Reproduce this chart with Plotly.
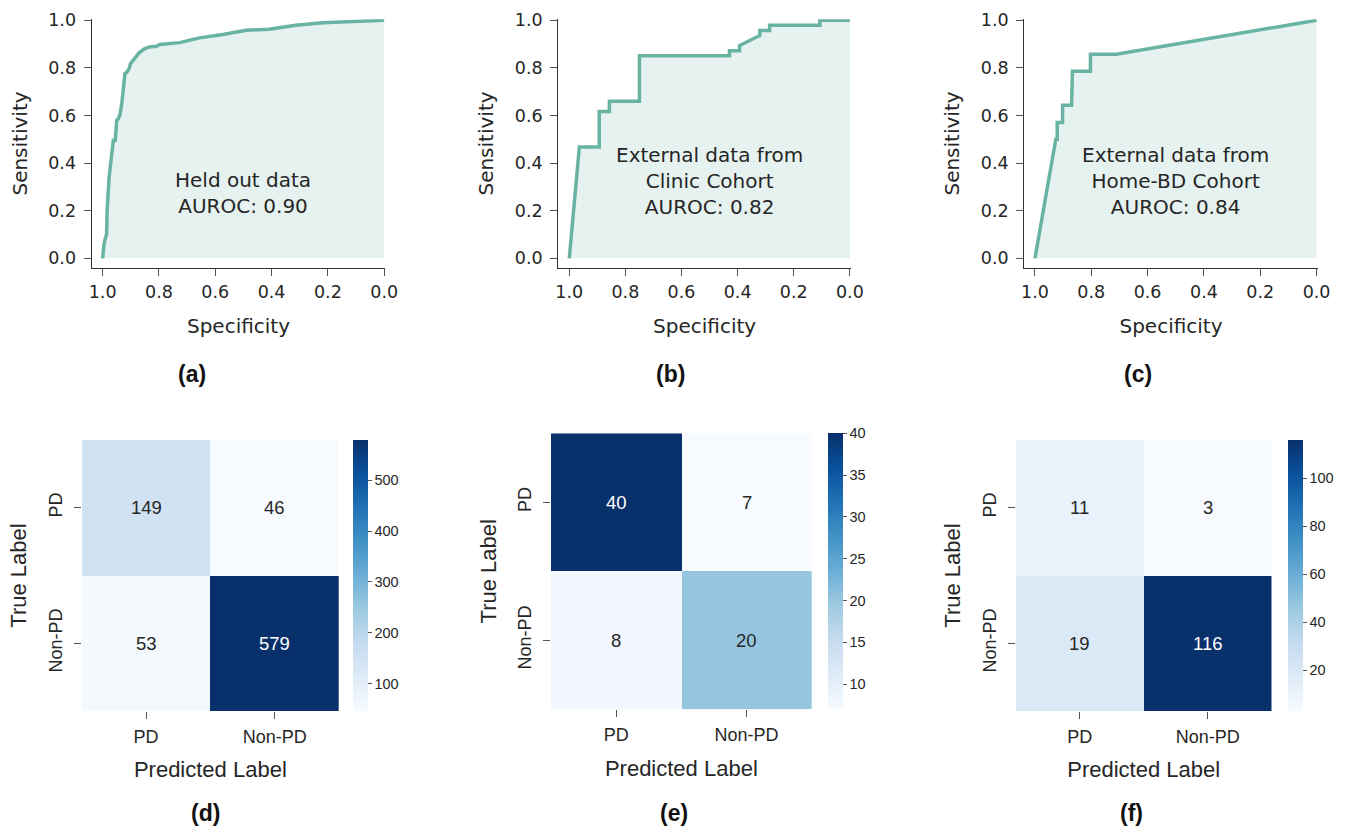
import plotly.graph_objects as go
import plotly.colors as pc

W, H = 1345, 834

# ---------------- ROC data ----------------
spec_a = [1.0, 0.995, 0.986, 0.984, 0.977, 0.962, 0.955, 0.950, 0.945, 0.939, 0.932, 0.927,
          0.921, 0.915, 0.906, 0.901, 0.886, 0.870, 0.850, 0.833, 0.809, 0.797, 0.726, 0.656,
          0.573, 0.490, 0.408, 0.314, 0.219, 0.101, 0.0]
sens_a = [0.0, 0.063, 0.102, 0.203, 0.342, 0.496, 0.496, 0.580, 0.585, 0.601, 0.650, 0.699,
          0.776, 0.780, 0.797, 0.818, 0.839, 0.864, 0.881, 0.888, 0.891, 0.898, 0.906, 0.926,
          0.940, 0.958, 0.962, 0.979, 0.989, 0.994, 1.0]

spec_b = [1.0, 0.964, 0.893, 0.893, 0.857, 0.857, 0.750, 0.750, 0.429, 0.429, 0.393, 0.393,
          0.321, 0.321, 0.286, 0.286, 0.107, 0.107, 0.0]
sens_b = [0.0, 0.468, 0.468, 0.617, 0.617, 0.660, 0.660, 0.851, 0.851, 0.872, 0.872, 0.894,
          0.936, 0.957, 0.957, 0.979, 0.979, 1.0, 1.0]

spec_c = [1.0, 0.926, 0.921, 0.921, 0.902, 0.902, 0.870, 0.870, 0.867, 0.803, 0.803, 0.711, 0.0]
sens_c = [0.0, 0.500, 0.500, 0.571, 0.571, 0.643, 0.643, 0.714, 0.786, 0.786, 0.857, 0.857, 1.0]

roc_texts = ["Held out data<br>AUROC: 0.90",
             "External data from<br>Clinic Cohort<br>AUROC: 0.82",
             "External data from<br>Home-BD Cohort<br>AUROC: 0.84"]
roc_text_y = [0.275, 0.325, 0.325]

# ---------------- Confusion matrices ----------------
labels = ["PD", "Non-PD"]
cm_d = [[149, 46], [53, 579]]
cm_e = [[40, 7], [8, 20]]
cm_f = [[11, 3], [19, 116]]
cb_ticks_d = [100, 200, 300, 400, 500]
cb_ticks_e = [10, 15, 20, 25, 30, 35, 40]
cb_ticks_f = [20, 40, 60, 80, 100]

captions_top = ["(a)", "(b)", "(c)"]
captions_bot = ["(d)", "(e)", "(f)"]

LINE = "#69b3a2"
FILL = "rgba(105,179,162,0.17)"
TXT = "#262626"
ROC_FONT = "DejaVu Sans"
HM_FONT = "Liberation Sans, Arial"

fig = go.Figure()

def px_x(v):
    return v / W

def px_y(v):
    return 1 - v / H

# ROC panel pixel geometry: (left spine, x of 1.0, x of 0.0)
roc_geo = [(91.7, 102.7, 385.3), (558.3, 569.3, 851.0), (1024.3, 1035.0, 1317.7)]
roc_top, roc_bottom = 19.3, 267.7
roc_y0, roc_y1 = 258.3, 20.0  # pixel of sens 0 and 1

rocs = [(spec_a, sens_a), (spec_b, sens_b), (spec_c, sens_c)]
layout = {}
for i, ((spec, sens), (lx, x1, x0)) in enumerate(zip(rocs, roc_geo)):
    n = i + 1
    xa = "x" if n == 1 else f"x{n}"
    ya = "y" if n == 1 else f"y{n}"
    fig.add_trace(go.Scatter(x=spec, y=sens, mode="lines", xaxis=xa, yaxis=ya,
                             line=dict(color=LINE, width=3.5), fill="tozeroy",
                             fillcolor=FILL, showlegend=False, hoverinfo="skip"))
    xr_left = 1 + (x1 - lx) / (x0 - x1)
    yr_bottom = -(roc_bottom - roc_y0) / (roc_y0 - roc_y1)
    common = dict(showgrid=False, zeroline=False, showline=True, linecolor="#333333",
                  linewidth=1.25, ticks="outside", ticklen=7, tickcolor="#555555",
                  tickwidth=1.25, automargin=False,
                  tickfont=dict(family=ROC_FONT, size=17.5, color=TXT),
                  title_font=dict(family=ROC_FONT, size=20, color=TXT))
    layout["xaxis" if n == 1 else f"xaxis{n}"] = dict(
        common, domain=[px_x(lx), px_x(x0)], range=[xr_left, -0.004],
        anchor=ya, tickvals=[1.0, 0.8, 0.6, 0.4, 0.2, 0.0], tickformat=".1f",
        ticklabelstandoff=1, title=dict(text="Specificity", standoff=18))
    layout["yaxis" if n == 1 else f"yaxis{n}"] = dict(
        common, domain=[px_y(roc_bottom), px_y(roc_top)], range=[yr_bottom, 1.004],
        anchor=xa, tickvals=[0, 0.2, 0.4, 0.6, 0.8, 1.0], tickformat=".1f",
        ticklabelstandoff=4, title=dict(text="Sensitivity", standoff=15))

# heatmaps: (left, right, top, bottom, cb_x)
hm_geo = [(81.7, 339.0, 440.0, 711.0, 353.3), (551.0, 811.7, 433.3, 709.3, 828.3),
          (1015.7, 1271.7, 440.0, 711.0, 1288.3)]
cms = [cm_d, cm_e, cm_f]
cbt = [cb_ticks_d, cb_ticks_e, cb_ticks_f]
blues = pc.sequential.Blues
annotations = []
for j, (cm, (l, r, t, b, cbx), ticks) in enumerate(zip(cms, hm_geo, cbt)):
    n = j + 4
    xa, ya = f"x{n}", f"y{n}"
    zmin = min(min(row) for row in cm)
    zmax = max(max(row) for row in cm)
    fig.add_trace(go.Heatmap(
        z=cm, x=labels, y=labels, xaxis=xa, yaxis=ya, colorscale=blues,
        zmin=zmin, zmax=zmax, hoverinfo="skip",
        colorbar=dict(x=px_x(cbx), xanchor="left", xpad=0, ypad=0, thickness=15,
                      lenmode="pixels", len=b - t, y=px_y(t), yanchor="top",
                      outlinewidth=0, ticks="outside", ticklen=4, tickcolor="#555555",
                      tickvals=ticks,
                      tickfont=dict(family=HM_FONT, size=14.5, color=TXT))))
    hcommon = dict(showgrid=False, zeroline=False, showline=False, ticks="outside",
                   ticklen=7, tickcolor="#555555", tickwidth=1.25, automargin=False,
                   tickfont=dict(family=HM_FONT, size=18, color=TXT),
                   title_font=dict(family=HM_FONT, size=22, color=TXT))
    layout[f"xaxis{n}"] = dict(hcommon, domain=[px_x(l), px_x(r)], anchor=ya,
                               ticklabelstandoff=2,
                               title=dict(text="Predicted Label", standoff=16))
    layout[f"yaxis{n}"] = dict(hcommon, domain=[px_y(b), px_y(t)], anchor=xa,
                               autorange="reversed", tickangle=-90,
                               ticklabelstandoff=5,
                               title=dict(text="True Label", standoff=12))
    for ri, row in enumerate(cm):
        for ci, v in enumerate(row):
            frac = (v - zmin) / (zmax - zmin)
            col = "white" if frac > 0.6 else TXT
            annotations.append(dict(x=labels[ci], y=labels[ri], xref=xa, yref=ya,
                                    text=str(v), showarrow=False,
                                    font=dict(family=HM_FONT, size=18.5, color=col)))

# ROC inner texts
for i, (txt, ty) in enumerate(zip(roc_texts, roc_text_y)):
    n = i + 1
    xa = "x" if n == 1 else f"x{n}"
    ya = "y" if n == 1 else f"y{n}"
    annotations.append(dict(x=0.5, y=ty, xref=xa, yref=ya, text=txt, showarrow=False,
                            xanchor="center", yanchor="middle",
                            font=dict(family=ROC_FONT, size=20, color=TXT)))

cap_top_x = [192, 670, 1138]
cap_bot_x = [205, 674, 1131]
for c, cx in zip(captions_top, cap_top_x):
    annotations.append(dict(x=px_x(cx), y=px_y(374), xref="paper", yref="paper",
                            text=f"<b>{c}</b>", showarrow=False,
                            xanchor="center", yanchor="middle",
                            font=dict(family=HM_FONT, size=23, color="#111111")))
for c, cx in zip(captions_bot, cap_bot_x):
    annotations.append(dict(x=px_x(cx), y=px_y(813), xref="paper", yref="paper",
                            text=f"<b>{c}</b>", showarrow=False,
                            xanchor="center", yanchor="middle",
                            font=dict(family=HM_FONT, size=23, color="#111111")))

fig.update_layout(**layout)
fig.update_layout(width=W, height=H, autosize=False, margin=dict(l=0, r=0, t=0, b=0),
                  paper_bgcolor="white", plot_bgcolor="white", annotations=annotations,
                  showlegend=False)

fig.write_html("out.html", config={"displayModeBar": False},
               post_script="document.body.style.margin='0';")
